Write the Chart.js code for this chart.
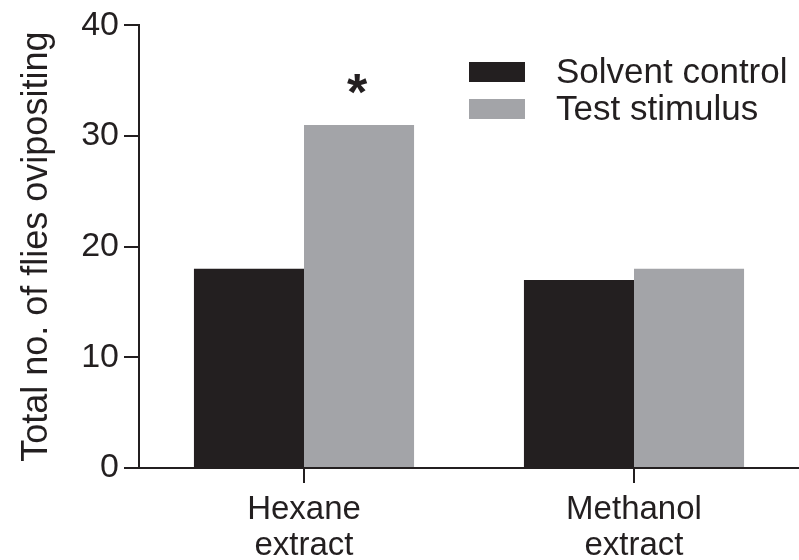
<!DOCTYPE html>
<html>
<head>
<meta charset="utf-8">
<script src="https://cdn.jsdelivr.net/npm/chart.js@4/dist/chart.umd.min.js"></script>
<style>
  html, body { margin: 0; padding: 0; background: #fff; }
  #box { width: 799px; height: 560px; }
</style>
</head>
<body>
<div id="box"><canvas id="grafico"></canvas></div>
<script>
// dados
const categorias = [["Hexane", "extract"], ["Methanol", "extract"]];
const controle = [18, 17];
const estimulo = [31, 18];
const nomesSeries = ["Solvent control", "Test stimulus"];
const marcas = ["*", ""];   // significância por categoria (série teste)
const yTicks = [0, 10, 20, 30, 40];

const preto = "#231f20";
const cinza = "#a3a4a8";
const fonte = "'Liberation Sans', Arial, Helvetica, sans-serif";

// legenda desenhada à mão, canto superior direito
const legendaPlugin = {
  id: "legendaManual",
  afterDraw(chart) {
    const ctx = chart.ctx;
    ctx.save();
    ctx.font = "35px " + fonte;
    ctx.textBaseline = "middle";
    ctx.textAlign = "left";
    chart.data.datasets.forEach((ds, i) => {
      const y = 62 + i * 37;
      ctx.fillStyle = ds.backgroundColor;
      ctx.fillRect(469, y, 56, 20);
      ctx.fillStyle = preto;
      ctx.fillText(ds.label, 556, y + 11);
    });
    ctx.restore();
  }
};

// asterisco acima das barras de teste
const asteriscoPlugin = {
  id: "asterisco",
  afterDatasetsDraw(chart) {
    const meta = chart.getDatasetMeta(1);
    const ctx = chart.ctx;
    ctx.save();
    ctx.font = "bold 52px " + fonte;
    ctx.fillStyle = preto;
    ctx.textAlign = "center";
    ctx.textBaseline = "middle";
    meta.data.forEach((bar, i) => {
      if (marcas[i]) ctx.fillText(marcas[i], bar.x - 2, bar.y - 29);
    });
    ctx.restore();
  }
};

new Chart(document.getElementById("grafico"), {
  type: "bar",
  data: {
    labels: categorias,
    datasets: [
      { label: nomesSeries[0], data: controle, backgroundColor: preto },
      { label: nomesSeries[1], data: estimulo, backgroundColor: cinza }
    ]
  },
  options: {
    responsive: true,
    maintainAspectRatio: false,
    animation: false,
    layout: { padding: { top: 24, right: 0, left: 0, bottom: 0 } },
    datasets: { bar: { categoryPercentage: 0.667, barPercentage: 1.0 } },
    plugins: {
      legend: { display: false },
      tooltip: { enabled: false }
    },
    scales: {
      x: {
        offset: true,
        afterFit: (s) => { s.height = 92; },
        border: { color: preto, width: 2 },
        grid: {
          offset: false,
          drawOnChartArea: false,
          color: preto,
          lineWidth: 2,
          tickLength: 15
        },
        ticks: {
          color: preto,
          padding: 9,
          font: { family: fonte, size: 33, lineHeight: 1.08 },
          maxRotation: 0
        }
      },
      y: {
        min: 0,
        max: 40,
        afterFit: (s) => { s.width = 139; },
        afterBuildTicks: (s) => { s.ticks = yTicks.map(v => ({ value: v })); },
        border: { color: preto, width: 2 },
        grid: {
          drawOnChartArea: false,
          color: preto,
          lineWidth: 2,
          tickLength: 15
        },
        ticks: {
          color: preto,
          padding: 5,
          font: { family: fonte, size: 34 }
        },
        title: {
          display: true,
          text: "Total no. of flies ovipositing",
          color: preto,
          padding: { top: 15, bottom: 0 },
          font: { family: fonte, size: 36, lineHeight: 1.2 }
        }
      }
    }
  },
  plugins: [legendaPlugin, asteriscoPlugin]
});
</script>
</body>
</html>
